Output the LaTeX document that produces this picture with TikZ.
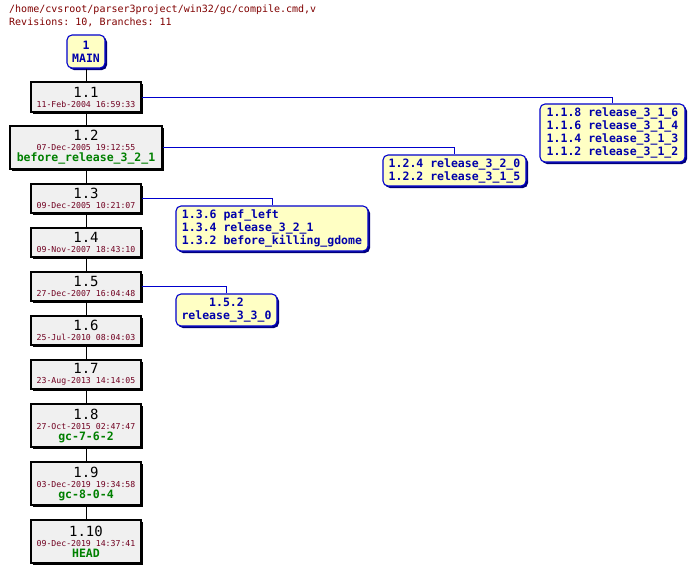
\documentclass[tikz,border=0pt]{standalone}
\usepackage{fontspec}
\setmonofont{DejaVu Sans Mono}
\usetikzlibrary{shadows}
\definecolor{titlecol}{RGB}{128,0,0}
\definecolor{datecol}{RGB}{112,0,32}
\definecolor{tagcol}{RGB}{0,128,0}
\definecolor{brtext}{RGB}{0,0,170}
\definecolor{brline}{RGB}{0,0,204}
\definecolor{brfill}{RGB}{255,255,196}
\definecolor{revfill}{RGB}{240,240,240}
\newcommand{\revnum}[1]{{\fontsize{14}{14}\selectfont #1}}
\newcommand{\revdate}[1]{{\color{datecol}\fontsize{8.2}{10}\selectfont #1}}
\newcommand{\revtag}[1]{{\color{tagcol}\bfseries\fontsize{11.5}{11}\selectfont #1}}
\tikzset{
  x=1pt,y=1pt,
  revbox/.style={draw=black,line width=1.2pt,fill=revfill,inner sep=0pt,align=center,
    font=\ttfamily,drop shadow={shadow xshift=2.2pt,shadow yshift=-2.2pt,fill=black,opacity=1}},
  brbox/.style={draw=brline,line width=1.1pt,fill=brfill,rounded corners=5pt,inner sep=0pt,
    font=\ttfamily\bfseries\fontsize{11.5}{13}\selectfont,text=brtext,
    drop shadow={shadow xshift=2pt,shadow yshift=-2pt,fill=brline!60!black,opacity=1}},
  trunk/.style={draw=black,line width=0.8pt},
  brconn/.style={draw=brline,line width=0.8pt},
}
\begin{document}
\begin{tikzpicture}
\useasboundingbox[fill=white] (0,0) rectangle (692,-573);
\node[anchor=north west,font=\ttfamily\fontsize{10}{12.5}\selectfont,text=titlecol,align=left,inner sep=0pt] (title) at (9,-5)
  {/home/cvsroot/parser3project/win32/gc/compile.cmd,v\\Revisions: 10, Branches: 11};

\node[brbox,minimum width=38pt,minimum height=33pt,align=center,font=\ttfamily\bfseries\fontsize{11.5}{13}\selectfont] (main) at (86,-51.5) {1\\MAIN};

\node[revbox,minimum width=110pt,minimum height=30pt] (r1) at (86,-97) {\revnum{1.1}\\[-2pt]\revdate{11-Feb-2004 16:59:33}};
\node[revbox,minimum width=152pt,minimum height=43pt] (r2) at (86,-147.5) {\revnum{1.2}\\[-2pt]\revdate{07-Dec-2005 19:12:55}\\[-1pt]\revtag{before\_release\_3\_2\_1}};
\node[revbox,minimum width=110pt,minimum height=29pt] (r3) at (86,-198.5) {\revnum{1.3}\\[-2pt]\revdate{09-Dec-2005 10:21:07}};
\node[revbox,minimum width=110pt,minimum height=29pt] (r4) at (86,-242.5) {\revnum{1.4}\\[-2pt]\revdate{09-Nov-2007 18:43:10}};
\node[revbox,minimum width=110pt,minimum height=29pt] (r5) at (86,-286.5) {\revnum{1.5}\\[-2pt]\revdate{27-Dec-2007 16:04:48}};
\node[revbox,minimum width=110pt,minimum height=29pt] (r6) at (86,-330.5) {\revnum{1.6}\\[-2pt]\revdate{25-Jul-2010 08:04:03}};
\node[revbox,minimum width=110pt,minimum height=29pt] (r7) at (86,-374.5) {\revnum{1.7}\\[-2pt]\revdate{23-Aug-2013 14:14:05}};
\node[revbox,minimum width=110pt,minimum height=43pt] (r8) at (86,-425.5) {\revnum{1.8}\\[-2pt]\revdate{27-Oct-2015 02:47:47}\\[-1pt]\revtag{gc-7-6-2}};
\node[revbox,minimum width=110pt,minimum height=43pt] (r9) at (86,-483.5) {\revnum{1.9}\\[-2pt]\revdate{03-Dec-2019 19:34:58}\\[-1pt]\revtag{gc-8-0-4}};
\node[revbox,minimum width=110pt,minimum height=43pt] (r10) at (86,-541.5) {\revnum{1.10}\\[-2pt]\revdate{09-Dec-2019 14:37:41}\\[-1pt]\revtag{HEAD}};

\node[brbox,minimum width=145pt,minimum height=58pt,align=left] (b1) at (612.5,-133)
  {1.1.8 release\_3\_1\_6\\1.1.6 release\_3\_1\_4\\1.1.4 release\_3\_1\_3\\1.1.2 release\_3\_1\_2};
\node[brbox,minimum width=143pt,minimum height=31pt,align=left] (b2) at (454.5,-170.5)
  {1.2.4 release\_3\_2\_0\\1.2.2 release\_3\_1\_5};
\node[brbox,minimum width=192pt,minimum height=45pt,align=left] (b3) at (272,-228.5)
  {1.3.6 paf\_left\\1.3.4 release\_3\_2\_1\\1.3.2 before\_killing\_gdome};
\node[brbox,minimum width=101pt,minimum height=32pt,align=center] (b5) at (226.5,-310)
  {1.5.2\\release\_3\_3\_0};

\draw[trunk] (main) -- (r1);
\draw[trunk] (r1) -- (r2);
\draw[trunk] (r2) -- (r3);
\draw[trunk] (r3) -- (r4);
\draw[trunk] (r4) -- (r5);
\draw[trunk] (r5) -- (r6);
\draw[trunk] (r6) -- (r7);
\draw[trunk] (r7) -- (r8);
\draw[trunk] (r8) -- (r9);
\draw[trunk] (r9) -- (r10);

\draw[brconn] (r1.east) -| (b1.north);
\draw[brconn] (r2.east) -| (b2.north);
\draw[brconn] (r3.east) -| (b3.north);
\draw[brconn] (r5.east) -| (b5.north);
\end{tikzpicture}
\end{document}
